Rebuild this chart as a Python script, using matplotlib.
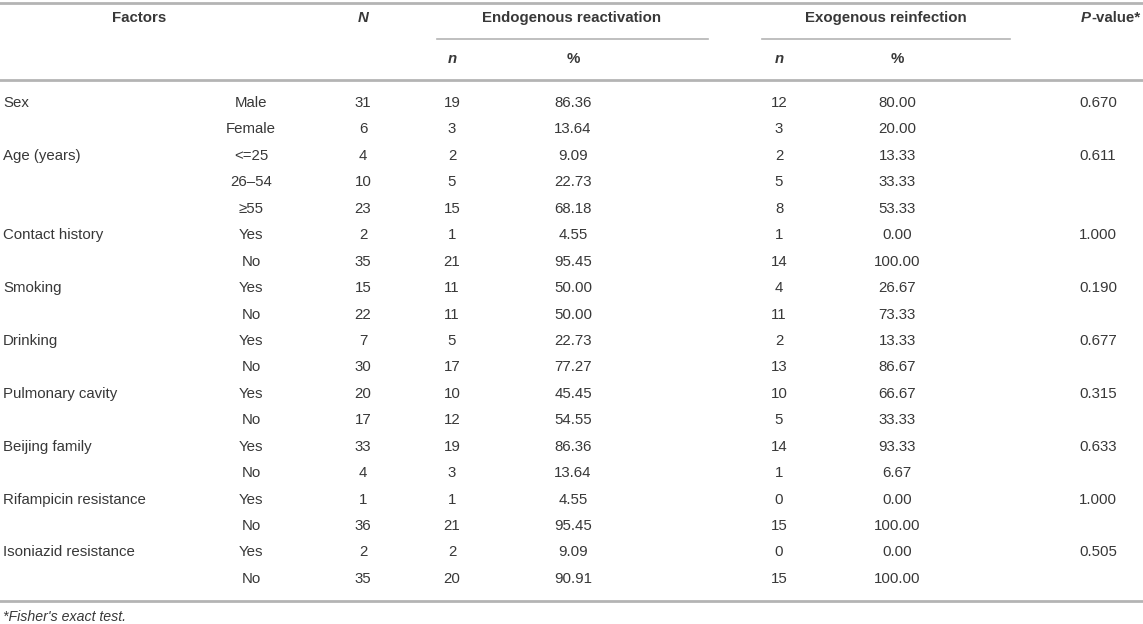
import matplotlib.pyplot as plt

factors = ["Sex", "", "Age (years)", "", "", "Contact history", "", "Smoking", "",
           "Drinking", "", "Pulmonary cavity", "", "Beijing family", "",
           "Rifampicin resistance", "", "Isoniazid resistance", ""]
levels = ["Male", "Female", "<=25", "26\u201354", "\u226555", "Yes", "No", "Yes", "No",
          "Yes", "No", "Yes", "No", "Yes", "No", "Yes", "No", "Yes", "No"]
total_n = [31, 6, 4, 10, 23, 2, 35, 15, 22, 7, 30, 20, 17, 33, 4, 1, 36, 2, 35]
endo_n = [19, 3, 2, 5, 15, 1, 21, 11, 11, 5, 17, 10, 12, 19, 3, 1, 21, 2, 20]
endo_pct = ["86.36", "13.64", "9.09", "22.73", "68.18", "4.55", "95.45", "50.00", "50.00",
            "22.73", "77.27", "45.45", "54.55", "86.36", "13.64", "4.55", "95.45", "9.09", "90.91"]
exo_n = [12, 3, 2, 5, 8, 1, 14, 4, 11, 2, 13, 10, 5, 14, 1, 0, 15, 0, 15]
exo_pct = ["80.00", "20.00", "13.33", "33.33", "53.33", "0.00", "100.00", "26.67", "73.33",
           "13.33", "86.67", "66.67", "33.33", "93.33", "6.67", "0.00", "100.00", "0.00", "100.00"]
p_values = ["0.670", "", "0.611", "", "", "1.000", "", "0.190", "", "0.677", "",
            "0.315", "", "0.633", "", "1.000", "", "0.505", ""]

plt.rcParams['font.family'] = ['Liberation Sans', 'DejaVu Sans']
W, H = 1143, 624
fig = plt.figure(figsize=(W / 100, H / 100), dpi=100)
ax = fig.add_axes([0, 0, 1, 1])
ax.set_xlim(0, W)
ax.set_ylim(H, 0)
ax.axis('off')

txt = '#383838'
line_c = '#b4b4b4'
fs = 10.8

# column centres
x_lab, x_lev, x_N = 3, 251, 363
x_en, x_ep, x_xn, x_xp, x_p = 452, 573, 779, 897, 1098

# rules
ax.plot([0, W], [3, 3], color=line_c, lw=2)
ax.plot([437, 708], [39, 39], color=line_c, lw=1.2)
ax.plot([762, 1010], [39, 39], color=line_c, lw=1.2)
ax.plot([0, W], [80, 80], color=line_c, lw=2)
ax.plot([0, W], [601, 601], color=line_c, lw=2)

# header
h1, h2 = 18, 59
kw = dict(fontsize=fs, color=txt, va='center', ha='center', fontweight='bold')
ax.text(139, h1, "Factors", **kw)
ax.text(x_N, h1, "N", style='italic', **kw)
ax.text(572, h1, "Endogenous reactivation", **kw)
ax.text(886, h1, "Exogenous reinfection", **kw)
ax.text(x_en, h2, "n", style='italic', **kw)
ax.text(x_ep, h2, "%", **kw)
ax.text(x_xn, h2, "n", style='italic', **kw)
ax.text(x_xp, h2, "%", **kw)

# P-value* header: italic P + bold rest
renderer = fig.canvas.get_renderer()
t_rest = ax.text(1140, h1, "-value*", fontsize=fs, color=txt, va='center', ha='right',
                 fontweight='bold')
bb = t_rest.get_window_extent(renderer)
x_left = ax.transData.inverted().transform((bb.x0, bb.y0))[0]
ax.text(x_left, h1, "P", fontsize=fs, color=txt, va='center', ha='right',
        fontweight='bold', style='italic')

# body
y0, dy = 103, 26.44
for i in range(len(levels)):
    y = y0 + i * dy
    ax.text(x_lab, y, factors[i], fontsize=fs, color=txt, va='center', ha='left')
    ax.text(x_lev, y, levels[i], fontsize=fs, color=txt, va='center', ha='center')
    ax.text(x_N, y, str(total_n[i]), fontsize=fs, color=txt, va='center', ha='center')
    ax.text(x_en, y, str(endo_n[i]), fontsize=fs, color=txt, va='center', ha='center')
    ax.text(x_ep, y, endo_pct[i], fontsize=fs, color=txt, va='center', ha='center')
    ax.text(x_xn, y, str(exo_n[i]), fontsize=fs, color=txt, va='center', ha='center')
    ax.text(x_xp, y, exo_pct[i], fontsize=fs, color=txt, va='center', ha='center')
    ax.text(x_p, y, p_values[i], fontsize=fs, color=txt, va='center', ha='center')

# footnote
ax.text(3, 617, "*Fisher's exact test.", fontsize=10.2, color=txt, va='center',
        ha='left', style='italic')

fig.savefig('out.png', dpi=100)
